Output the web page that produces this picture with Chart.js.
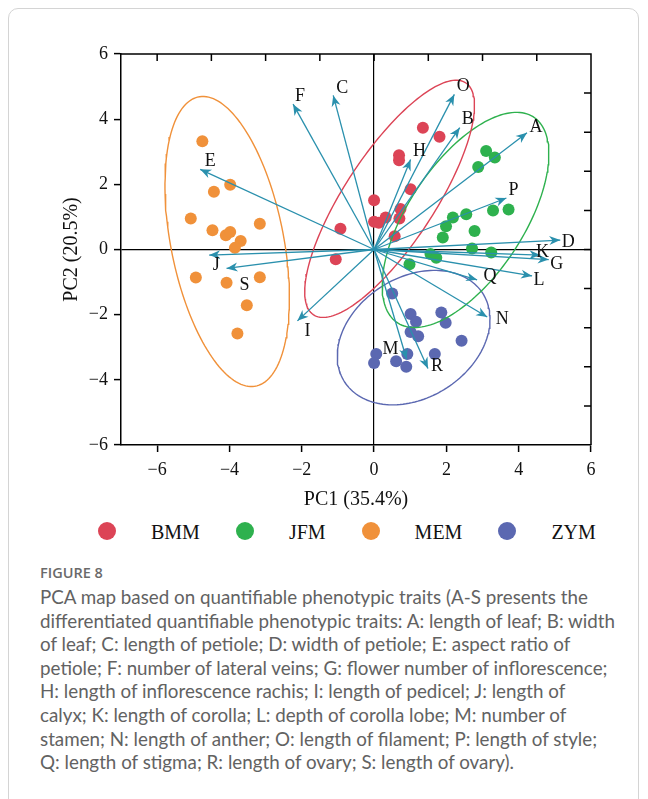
<!DOCTYPE html>
<html>
<head>
<meta charset="utf-8">
<script src="https://cdn.jsdelivr.net/npm/chart.js@4.4.1/dist/chart.umd.min.js"></script>
<style>
  body { margin: 0; background: #fff; width: 648px; height: 799px; position: relative; overflow: hidden; }
  #frame { position: absolute; left: 8px; top: 8px; width: 631px; height: 840px; border: 1.5px solid #d4d4d4; border-radius: 10px; box-sizing: border-box; }
  #chart { position: absolute; left: 0; top: 0; }
  #legend { position: absolute; left: 98px; top: 521px; display: flex; align-items: center; font-family: 'Liberation Serif', 'Times New Roman', serif; font-size: 20px; color: #111; }
  .item { display: flex; align-items: center; margin-right: 36px; }
  .dot { width: 18px; height: 18px; border-radius: 50%; margin-right: 35px; position: relative; top: -2px; }
  #figno { position: absolute; left: 40px; top: 563px; font-family: 'Open Sans', sans-serif; font-size: 14.5px; font-weight: 600; color: #6a6a6a; }
  #caption { position: absolute; left: 40px; top: 585px; font-family: Lato, 'Open Sans', sans-serif; font-size: 18.8px; line-height: 23.6px; color: #626262; white-space: nowrap; }
</style>
</head>
<body>
<div id="frame"></div>
<canvas id="chart" width="648" height="520"></canvas>
<div id="legend"></div>
<div id="figno">FIGURE 8</div>
<div id="caption">
PCA map based on quantifiable phenotypic traits (A-S presents the<br>
differentiated quantifiable phenotypic traits: A: length of leaf; B: width<br>
of leaf; C: length of petiole; D: width of petiole; E: aspect ratio of<br>
petiole; F: number of lateral veins; G: flower number of inflorescence;<br>
H: length of inflorescence rachis; I: length of pedicel; J: length of<br>
calyx; K: length of corolla; L: depth of corolla lobe; M: number of<br>
stamen; N: length of anther; O: length of filament; P: length of style;<br>
Q: length of stigma; R: length of ovary; S: length of ovary).
</div>
<script>
// groups and sample scores (PC1, PC2)
const groups = ['BMM', 'JFM', 'MEM', 'ZYM'];
const groupColors = ['#dc4456', '#2eb14e', '#f0913a', '#5b68b1'];

const bmmX = [1.35, 1.81, 0.69, 0.69, 1.01, 0.00, 0.73, 0.70, 0.32, 0.00, 0.13, 0.57, -0.93, -1.06];
const bmmY = [3.74, 3.46, 2.89, 2.74, 1.85, 1.51, 1.24, 0.95, 0.98, 0.85, 0.82, 0.41, 0.64, -0.30];

const jfmX = [3.10, 3.34, 2.88, 3.72, 3.29, 2.55, 2.18, 1.99, 2.78, 1.90, 2.71, 3.24, 1.56, 1.72, 0.98];
const jfmY = [3.02, 2.82, 2.53, 1.23, 1.20, 1.08, 0.98, 0.71, 0.57, 0.37, 0.03, -0.09, -0.14, -0.25, -0.45];

const memX = [-4.75, -3.98, -4.43, -5.07, -3.16, -4.47, -4.10, -3.98, -3.69, -3.85, -4.93, -4.08, -3.16, -3.52, -3.78];
const memY = [3.32, 1.99, 1.77, 0.95, 0.79, 0.59, 0.44, 0.54, 0.26, 0.05, -0.86, -1.02, -0.85, -1.71, -2.58];

const zymX = [0.50, 1.01, 1.16, 1.86, 1.98, 1.01, 1.22, 2.42, 0.06, 0.00, 0.61, 0.92, 0.89, 1.68];
const zymY = [-1.35, -1.98, -2.22, -1.93, -2.25, -2.53, -2.66, -2.80, -3.21, -3.48, -3.43, -3.21, -3.60, -3.21];

// trait loadings (arrow tips)
const traits = ['A', 'B', 'C', 'D', 'E', 'F', 'G', 'H', 'I', 'J', 'K', 'L', 'M', 'N', 'O', 'P', 'Q', 'R', 'S'];
const loadX = [4.23, 2.37, -1.13, 5.15, -4.81, -2.24, 4.83, 1.01, -2.12, -4.56, 4.60, 4.37, 0.90, 3.13, 2.22, 3.66, 2.85, 1.49, -4.08];
const loadY = [3.58, 3.74, 4.73, 0.29, 2.46, 4.46, -0.31, 2.76, -2.19, -0.17, -0.17, -0.81, -3.37, -2.07, 4.76, 1.58, -0.93, -3.65, -0.58];

// axis ticks
const xTicks = [-6, -4, -2, 0, 2, 4, 6];
const yTicks = [-6, -4, -2, 0, 2, 4, 6];
const topTicks = [-6, -4.5, -3, -1.5, 0, 1.5, 3, 4.5];
const rightTicks = [-4.8, -3.6, -2.4, -1.2, 0, 1.2, 2.4, 3.6, 4.8];

const arrowColor = '#2a90ad';
const serif = "'Liberation Serif', 'Times New Roman', serif";

// pixel nudges for the trait letters, relative to the arrow tip
const labelNudge = {
    A: [9, -6], B: [8, -8], C: [9, -7], D: [8, 2], E: [10, -8], F: [7, -8], G: [8, 5],
    H: [9, -8], I: [10, 10], J: [7, 10], K: [2, -3], L: [7, 4], M: [-16, -10], N: [15, 2],
    O: [9, -8], P: [7, -8], Q: [13, -4], R: [9, -2], S: [18, 17]
};

function toPoints(xs, ys) {
    return xs.map((x, i) => ({ x: x, y: ys[i] }));
}

// 95% prediction ellipse of a group
function predictionEllipse(xs, ys) {
    const n = xs.length;
    const mx = xs.reduce((a, b) => a + b, 0) / n;
    const my = ys.reduce((a, b) => a + b, 0) / n;
    let sxx = 0, syy = 0, sxy = 0;
    for (let i = 0; i < n; i++) {
        sxx += (xs[i] - mx) ** 2;
        syy += (ys[i] - my) ** 2;
        sxy += (xs[i] - mx) * (ys[i] - my);
    }
    sxx /= n - 1; syy /= n - 1; sxy /= n - 1;
    const m = n - 2;
    const f = m / 2 * (Math.pow(0.05, -2 / m) - 1);
    const k = Math.sqrt(2 * (n * n - 1) / (n * (n - 2)) * f);
    const half = (sxx + syy) / 2;
    const d = Math.sqrt(((sxx - syy) / 2) ** 2 + sxy ** 2);
    const l1 = half + d, l2 = Math.max(half - d, 0);
    const th = 0.5 * Math.atan2(2 * sxy, sxx - syy);
    const pts = [];
    for (let i = 0; i <= 160; i++) {
        const t = i / 160 * 2 * Math.PI;
        const a = k * Math.sqrt(l1) * Math.cos(t);
        const b = k * Math.sqrt(l2) * Math.sin(t);
        pts.push({ x: mx + a * Math.cos(th) - b * Math.sin(th), y: my + a * Math.sin(th) + b * Math.cos(th) });
    }
    return pts;
}

const groupX = [bmmX, jfmX, memX, zymX];
const groupY = [bmmY, jfmY, memY, zymY];

const datasets = [];
groups.forEach((g, i) => {
    datasets.push({
        label: g,
        data: toPoints(groupX[i], groupY[i]),
        backgroundColor: groupColors[i],
        borderWidth: 0,
        pointRadius: 6,
        order: 3
    });
    datasets.push({
        label: g + ' ellipse',
        data: predictionEllipse(groupX[i], groupY[i]),
        showLine: true,
        borderColor: groupColors[i],
        borderWidth: 1.4,
        pointRadius: 0,
        fill: false,
        order: 2
    });
});
traits.forEach((t, i) => {
    datasets.push({
        label: t,
        data: [{ x: 0, y: 0 }, { x: loadX[i], y: loadY[i] }],
        showLine: true,
        borderColor: arrowColor,
        borderWidth: 1.3,
        pointRadius: 0,
        order: 1
    });
});

const minus = v => (v < 0 ? '\u2212' + Math.abs(v) : String(v));

// arrowheads, trait letters, top/right frame ticks
const biplotPlugin = {
    id: 'biplot',
    afterDatasetsDraw(chart) {
        const { ctx, chartArea, scales: { x, y } } = chart;
        ctx.save();
        const x0 = x.getPixelForValue(0), y0 = y.getPixelForValue(0);
        traits.forEach((t, i) => {
            const tx = x.getPixelForValue(loadX[i]);
            const ty = y.getPixelForValue(loadY[i]);
            const ang = Math.atan2(ty - y0, tx - x0);
            const len = 11, w = 4.5;
            ctx.fillStyle = arrowColor;
            ctx.beginPath();
            ctx.moveTo(tx, ty);
            ctx.lineTo(tx - len * Math.cos(ang) + w * Math.sin(ang), ty - len * Math.sin(ang) - w * Math.cos(ang));
            ctx.lineTo(tx - len * 0.7 * Math.cos(ang), ty - len * 0.7 * Math.sin(ang));
            ctx.lineTo(tx - len * Math.cos(ang) - w * Math.sin(ang), ty - len * Math.sin(ang) + w * Math.cos(ang));
            ctx.closePath();
            ctx.fill();
            const nd = labelNudge[t] || [8, -8];
            ctx.fillStyle = '#111';
            ctx.font = '18px ' + serif;
            ctx.textAlign = 'center';
            ctx.textBaseline = 'middle';
            ctx.fillText(t, tx + nd[0], ty + nd[1]);
        });
        // top and right frame with inward ticks
        ctx.strokeStyle = '#000';
        ctx.lineWidth = 1.5;
        ctx.beginPath();
        ctx.moveTo(chartArea.left, chartArea.top);
        ctx.lineTo(chartArea.right, chartArea.top);
        ctx.lineTo(chartArea.right, chartArea.bottom);
        topTicks.forEach(v => {
            const px = x.getPixelForValue(v);
            ctx.moveTo(px, chartArea.top);
            ctx.lineTo(px, chartArea.top + 7);
        });
        rightTicks.forEach(v => {
            const py = y.getPixelForValue(v);
            ctx.moveTo(chartArea.right, py);
            ctx.lineTo(chartArea.right - 7, py);
        });
        ctx.stroke();
        ctx.restore();
    }
};

const axisGrid = {
    drawOnChartArea: true,
    color: c => (c.tick && c.tick.value === 0 ? '#000' : 'rgba(0,0,0,0)'),
    lineWidth: 1.2,
    tickColor: '#000',
    tickWidth: 1.5,
    tickLength: 7
};

new Chart(document.getElementById('chart'), {
    type: 'scatter',
    data: { datasets: datasets },
    plugins: [biplotPlugin],
    options: {
        responsive: false,
        animation: false,
        events: [],
        layout: { padding: { left: 0, right: 57, top: 54, bottom: 0 } },
        plugins: { legend: { display: false }, tooltip: { enabled: false } },
        scales: {
            x: {
                type: 'linear',
                min: -7,
                max: 6,
                afterBuildTicks: s => { s.ticks = xTicks.map(v => ({ value: v })); },
                afterFit: s => { s.height = 75; },
                ticks: { callback: minus, color: '#111', font: { family: serif, size: 18 }, padding: 7, maxRotation: 0 },
                grid: axisGrid,
                border: { display: true, color: '#000', width: 1.5 },
                title: { display: true, text: 'PC1 (35.4%)', color: '#111', font: { family: serif, size: 20 }, padding: { top: 0, bottom: 8 } }
            },
            y: {
                type: 'linear',
                min: -6,
                max: 6,
                afterBuildTicks: s => { s.ticks = yTicks.map(v => ({ value: v })); },
                afterFit: s => { s.width = 121; },
                ticks: { callback: minus, color: '#111', font: { family: serif, size: 18 }, padding: 6 },
                grid: axisGrid,
                border: { display: true, color: '#000', width: 1.5 },
                title: { display: true, text: 'PC2 (20.5%)', color: '#111', font: { family: serif, size: 20 }, padding: { top: 60, bottom: 0 } }
            }
        }
    }
});

// legend
const legend = document.getElementById('legend');
groups.forEach((g, i) => {
    const item = document.createElement('div');
    item.className = 'item';
    const dot = document.createElement('span');
    dot.className = 'dot';
    dot.style.background = groupColors[i];
    const label = document.createElement('span');
    label.textContent = g;
    item.appendChild(dot);
    item.appendChild(label);
    legend.appendChild(item);
});
</script>
</body>
</html>
